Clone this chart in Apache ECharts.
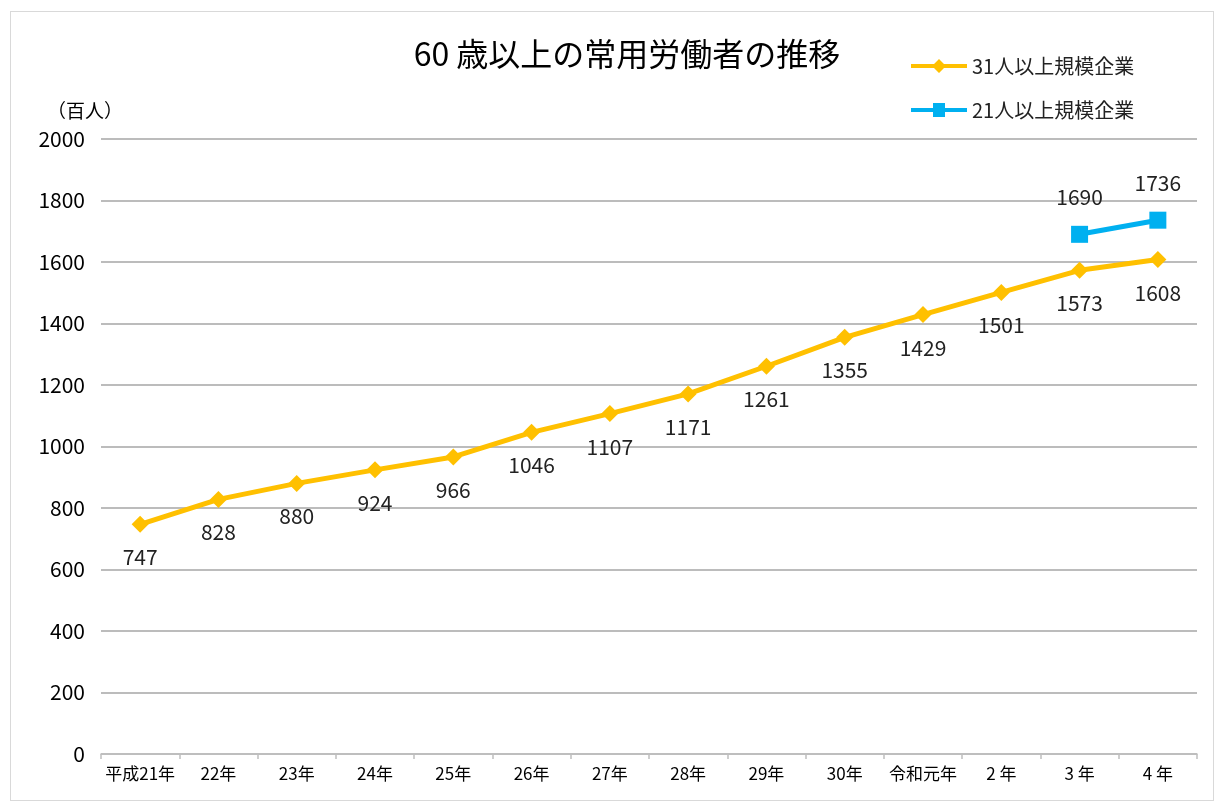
<!DOCTYPE html>
<html><head><meta charset="utf-8">
<script src="https://cdn.jsdelivr.net/npm/echarts@6/dist/echarts.min.js"></script>
<style>
html,body{margin:0;padding:0;background:#fff;}
#wrap{position:absolute;left:10px;top:11px;width:1204px;height:790px;border:1px solid #d9d9d9;box-sizing:border-box;}
#c{position:absolute;left:0;top:0;width:1223px;height:801px;}
</style></head>
<body><div id="wrap"></div><div id="c"></div>
<script>
const categories = ['平成21年','22年','23年','24年','25年','26年','27年','28年','29年','30年','令和元年','2 年','3 年','4 年'];
const series31 = [747,828,880,924,966,1046,1107,1171,1261,1355,1429,1501,1573,1608];
const series21 = [null,null,null,null,null,null,null,null,null,null,null,null,1690,1736];
const yTicks = [0,200,400,600,800,1000,1200,1400,1600,1800,2000];
const font = '"Noto Sans CJK JP", sans-serif';
const chart = echarts.init(document.getElementById('c'));
chart.setOption({
  animation:false,
  title:{text:'60 歳以上の常用労働者の推移',left:622,top:33,textAlign:'center',textStyle:{fontFamily:font,fontSize:32,fontWeight:'normal',color:'#000'}},
  legend:{orient:'vertical',left:906,top:51,itemGap:24,itemWidth:56,itemHeight:14,
    textStyle:{fontFamily:font,fontSize:20,color:'#222'},
    data:[{name:'31人以上規模企業',icon:'path://M0,5 L23,5 L28,0 L33,5 L56,5 L56,9 L33,9 L28,14 L23,9 L0,9 Z'},{name:'21人以上規模企業',icon:'path://M0,5 L22,5 L22,0 L34,0 L34,5 L56,5 L56,9 L34,9 L34,14 L22,14 L22,9 L0,9 Z'}]},
  grid:{left:101,right:26,top:139,bottom:47},
  xAxis:{type:'category',data:categories,boundaryGap:true,
    axisLine:{lineStyle:{color:'#bfbfbf',width:1.5}},
    axisTick:{show:true,length:5,lineStyle:{color:'#bfbfbf',width:1.5}},
    axisLabel:{fontFamily:font,fontSize:17,color:'#000',margin:11,interval:0}},
  yAxis:{type:'value',min:0,max:2000,interval:200,
    name:'（百人）',nameLocation:'end',nameGap:19,nameTextStyle:{fontFamily:font,fontSize:19,color:'#000',align:'right',padding:[0,-22,0,0]},
    axisLine:{show:false},axisTick:{show:false},
    splitLine:{lineStyle:{color:'#a6a6a6',width:1.5}},
    axisLabel:{fontFamily:font,fontSize:21,color:'#000',margin:16,
      formatter:v=>yTicks.includes(v)?String(v):''}},
  series:[
    {name:'31人以上規模企業',type:'line',data:series31,symbol:'diamond',symbolSize:17,
      itemStyle:{color:'#FFC000'},lineStyle:{color:'#FFC000',width:5},
      label:{show:true,position:'bottom',distance:14,fontFamily:font,fontSize:21,color:'#222'}},
    {name:'21人以上規模企業',type:'line',data:series21,symbol:'rect',symbolSize:17,connectNulls:false,
      itemStyle:{color:'#00B0F0'},lineStyle:{color:'#00B0F0',width:5},
      label:{show:true,position:'top',distance:18,fontFamily:font,fontSize:21,color:'#222'}}
  ]
});
</script></body></html>
